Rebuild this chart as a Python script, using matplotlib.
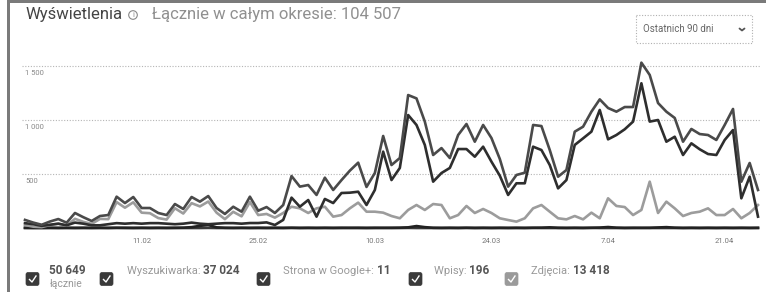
import matplotlib
matplotlib.use("Agg")
import matplotlib.pyplot as plt
from matplotlib.patches import FancyBboxPatch, Rectangle, Circle
import matplotlib.transforms as mtransforms
import numpy as np
import pandas as pd

plt.rcParams['font.family'] = ['Roboto', 'DejaVu Sans']

# daily values, 28.01 - 25.04 (2012)
start_date = '2012-01-28'
total = [75, 50, 30, 60, 83, 49, 139, 100, 65, 111,
         120, 290, 231, 287, 185, 185, 139, 120, 222, 176,
         287, 244, 296, 185, 130, 197, 151, 290, 160, 194,
         139, 213, 481, 383, 398, 306, 466, 352, 444, 531,
         605, 380, 509, 852, 583, 648, 1231, 1200, 985, 676,
         740, 648, 861, 963, 799, 954, 833, 640, 383, 491,
         512, 954, 944, 722, 475, 537, 892, 938, 1077, 1191,
         1111, 1077, 1120, 1120, 1531, 1417, 1157, 1077, 1019, 799,
         917, 870, 861, 815, 954, 1102, 429, 602, 352]
search = [45, 35, 20, 30, 40, 25, 50, 40, 25, 25,
          35, 45, 40, 45, 40, 45, 45, 40, 35, 40,
          50, 40, 35, 40, 45, 45, 40, 46, 46, 52,
          28, 75, 281, 197, 259, 105, 269, 231, 324, 327,
          336, 213, 352, 707, 444, 556, 1046, 954, 769, 429,
          509, 556, 731, 731, 660, 753, 614, 485, 306, 414,
          414, 753, 722, 583, 367, 444, 769, 830, 892, 1093,
          821, 861, 914, 985, 1340, 985, 1000, 799, 845, 676,
          784, 729, 685, 676, 815, 907, 275, 475, 105]
google = [0, 0, 0, 0, 0, 0, 0, 0, 0, 0,
          0, 1, 0, 0, 0, 0, 0, 0, 0, 0,
          0, 0, 1, 0, 0, 0, 0, 0, 0, 0,
          0, 0, 1, 0, 0, 0, 0, 0, 0, 1,
          0, 0, 0, 1, 0, 0, 1, 0, 0, 0,
          0, 0, 0, 1, 0, 0, 0, 0, 0, 0,
          0, 1, 0, 0, 0, 0, 0, 0, 1, 0,
          0, 0, 0, 0, 1, 0, 0, 0, 0, 0,
          0, 0, 0, 0, 0, 0, 0, 0, 0]
posts = [2, 1, 1, 2, 1, 2, 1, 2, 1, 2,
         1, 2, 2, 1, 2, 1, 2, 1, 2, 3,
         8, 20, 28, 6, 2, 1, 2, 1, 2, 1,
         2, 1, 2, 1, 2, 1, 2, 1, 2, 1,
         2, 1, 2, 1, 2, 3, 6, 18, 8, 2,
         1, 2, 1, 2, 1, 2, 1, 2, 1, 2,
         1, 2, 3, 6, 2, 1, 2, 1, 2, 4,
         9, 3, 1, 2, 1, 2, 5, 8, 3, 1,
         2, 1, 2, 1, 2, 1, 2, 1, 2]
photos = [28, 12, 8, 28, 40, 22, 85, 57, 38, 84,
          82, 240, 188, 238, 142, 137, 92, 78, 183, 134,
          230, 200, 245, 142, 82, 150, 108, 240, 120, 130,
          96, 139, 197, 182, 139, 182, 197, 105, 120, 182,
          235, 151, 151, 142, 111, 90, 167, 213, 167, 222,
          213, 90, 120, 204, 139, 176, 139, 90, 74, 59,
          90, 182, 213, 151, 90, 80, 111, 80, 142, 90,
          275, 204, 194, 120, 167, 429, 139, 244, 182, 111,
          139, 151, 182, 120, 120, 176, 90, 139, 213]

tick_labels = ['11.02', '25.02', '10.03', '24.03', '7.04', '21.04']
tick_dates = ['2012-02-11', '2012-02-25', '2012-03-10', '2012-03-24', '2012-04-07', '2012-04-21']
grid_values = [500, 1000, 1500]
grid_labels = ['500', '1 000', '1 500']

title = 'Wyświetlenia'
subtitle = 'Łącznie w całym okresie: 104 507'
legend_names = ['', 'Wyszukiwarka: ', 'Strona w Google+: ', 'Wpisy: ', 'Zdjęcia: ']
legend_values = ['50 649', '37 024', '11', '196', '13 418']

W, H = 766, 292
fig = plt.figure(figsize=(W / 100, H / 100), dpi=100)

# chart area
ax = fig.add_axes([22 / W, 60 / H, 738 / W, 174 / H])
x = np.arange(len(total))
ax.set_xlim(-0.36, 88.24)
ax.set_ylim(-37, 1574)
for v in grid_values:
    ax.axhline(v, color='#b5b5b5', lw=0.8, ls=(0, (1, 1.5)), zorder=0)
ax.plot(x, google, color='#3a3a3a', lw=1.9, zorder=2)
ax.plot(x, posts, color='#222222', lw=1.9, zorder=2)
ax.plot(x, photos, color='#9c9c9c', lw=1.9, zorder=3)
ax.plot(x, search, color='#2e2e2e', lw=1.9, zorder=4)
ax.plot(x, total, color='#4a4a4a', lw=1.9, zorder=5)

t0 = pd.Timestamp(start_date)
tick_pos = [(pd.Timestamp(d) - t0).days for d in tick_dates]
ax.set_xticks(tick_pos, tick_labels)
ax.tick_params(axis='x', length=0, pad=4, labelsize=5.5, labelcolor='#777777')
ax.set_yticks([])
for s in ax.spines.values():
    s.set_visible(False)
trans = mtransforms.blended_transform_factory(ax.transAxes, ax.transData)
for v, lab in zip(grid_values, grid_labels):
    ax.annotate(lab, (0.004, v), xycoords=trans, xytext=(0, -3), textcoords='offset points',
                ha='left', va='top', fontsize=5.5, color='#888888')

# overlay in pixel coordinates for the page elements
ov = fig.add_axes([0, 0, 1, 1], zorder=-1)
ov.set_xlim(0, W)
ov.set_ylim(H, 0)
ov.axis('off')
ov.add_patch(Rectangle((7, 0), W - 7, 2.5, color='#7a7a7a', lw=0))
ov.add_patch(Rectangle((7, 0), 2.5, H, color='#7a7a7a', lw=0))

ov.text(25, 15, title, fontsize=12, color='#444444', va='center', ha='left')
ov.add_patch(Circle((133, 15), 4.3, fill=False, ec='#888888', lw=0.8))
ov.text(133, 15.3, 'i', fontsize=5.5, color='#888888', ha='center', va='center')
ov.text(152, 15, subtitle, fontsize=12, color='#909090', va='center', ha='left')

ov.add_patch(Rectangle((636, 15), 116, 28, fill=False, ec='#b0b0b0', lw=0.8, ls=(0, (1, 1.5))))
ov.text(643, 29.5, 'Ostatnich 90 dni', fontsize=7, color='#666666', va='center', ha='left')
ov.plot([739.5, 742, 744.5], [28.5, 30.5, 28.5], color='#555555', lw=1.3, solid_capstyle='round')

# legend with check boxes
box_x = [26, 100, 257, 409, 505]
box_colors = ['#3a3a3a', '#3a3a3a', '#3a3a3a', '#3a3a3a', '#9a9a9a']
text_x = [49, 127, 283, 434, 531]
renderer = fig.canvas.get_renderer()
for bx, bc, tx, name, val in zip(box_x, box_colors, text_x, legend_names, legend_values):
    ov.add_patch(FancyBboxPatch((bx, 272.5), 13, 13, boxstyle='round,pad=0,rounding_size=2',
                                fc=bc, ec=bc, lw=0.5))
    ov.plot([bx + 3.5, bx + 6, bx + 10], [279.5, 282, 276], color='white', lw=1.0)
    xx = tx
    if name:
        t = ov.text(xx, 271, name, fontsize=8, color='#999999', va='center', ha='left')
        xx += t.get_window_extent(renderer).width
    ov.text(xx, 271, val, fontsize=8.5, color='#555555', va='center', ha='left', fontweight='bold')
ov.text(50, 284, 'łącznie', fontsize=7.5, color='#999999', va='center', ha='left')

fig.savefig('out.png', dpi=100)
